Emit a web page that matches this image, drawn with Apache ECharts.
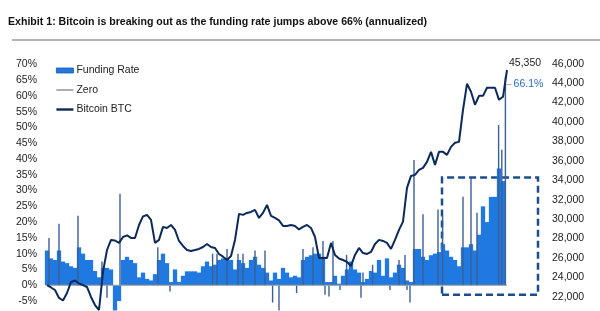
<!DOCTYPE html>
<html>
<head>
<meta charset="utf-8">
<script src="https://cdn.jsdelivr.net/npm/echarts@6/dist/echarts.min.js"></script>
<style>html,body{margin:0;padding:0;background:#fff}#c{width:600px;height:311px}</style>
</head>
<body>
<div id="c"></div>
<script>
// Funding rate (annualized %, main body of bars), one value per observation
const fundingRate = [11, 8.5, 8, 11, 7.5, 7, 6, 5.5, 12, 10,
  8, 8, 4.5, 2.5, 5.5, 5.5, 5, -8, -5, 8,
  9, 8, 7, 2.5, 4, 2, 1.5, 3.5, 8, 10,
  7, 1, 5, 1, 3, 4.4, 4.4, 4.4, 4, 6,
  7.5, 6, 6.5, 8, 8.5, 8.5, 8, 5, 8, 7,
  5.5, 8, 9, 6.5, 5.5, 4, 1.5, 4, 2, 5.5,
  4, 2.5, 3, 2.5, 8, 9, 9.5, 10, 10, 9,
  1, 1, 3, 0.5, 3, 5, 7.5, 5, 4, 1,
  2, 4.5, 4, 8, 3, 8.5, 2.5, 4, 6.5, 5.5,
  1.5, 1, 11.5, 11.5, 9, 8, 9.5, 10, 10.5, 13,
  11, 9, 8, 6, 12, 12, 13, 11, 16, 25,
  20, 28, 28, 37, 33, null];
// Bitcoin BTC price, same observations
const bitcoin = [23200, 22950, 22690, 21870, 21610, 22380, 23520, 23670, 23360, 23200,
  23000, 21970, 21140, 20630, 24550, 26810, 27850, 27790, 27540, 28150,
  28310, 28050, 28050, 29390, 30270, 30420, 29910, 27540, 27850, 29190,
  29080, 29390, 28880, 27740, 27230, 26810, 26710, 26810, 26920, 27120,
  27430, 27120, 27020, 26400, 26120, 25780, 26200, 27850, 30530, 30430,
  30630, 30730, 30940, 30110, 30630, 31450, 30320, 30110, 29860, 29290,
  29290, 29390, 29290, 28930, 29190, 29390, 29080, 28150, 25990, 25990,
  25990, 27540, 26300, 25940, 25780, 25580, 25170, 26300, 27020, 26500,
  26400, 26610, 27430, 27850, 27740, 27540, 26920, 27850, 28880, 29730,
  33210, 34440, 34550, 35060, 35270, 35890, 36920, 35580, 36920, 36920,
  36610, 37430, 37850, 37950, 41250, 43930, 43110, 41770, 42690, 42690,
  43520, 43520, 43520, 42280, 42590, 45350];
// Short-lived funding-rate spikes: observation position and value (%)
const spikeAt = [0.5, 3, 7.75, 13.75, 15, 18.25, 27.7, 30.75, 41.4, 42.5,
  45, 47.75, 49, 52, 54.5, 56.4, 58, 62.4, 64, 66.5,
  69, 69.5, 70.5, 71.5, 73.25, 74.9, 78.5, 79, 81.4, 85.75,
  88, 89.5, 90, 90.75, 91.75, 94, 97.75, 98.9, 104, 106,
  107.5, 112.9, 113.7, 114.6];
const spikeRate = [15, 19.5, 22, 7.5, -4, 29, 12, -2, 10, 10,
  11.5, 10, 10, 11, 11, -5.5, -8, -2.5, 11.5, 12,
  14, -3, -3.6, 14, -1.5, 9.6, -4, 4, 6.5, -1.5,
  8, 9.6, -1.5, -5.5, 39.7, 22.5, 24, 22, 28, 34,
  23, 50.8, 42.9, 66.1];
const zeroLevel = 0;
const leftTicks = {min: -5, max: 70, step: 5};
const rightTicks = {min: 22000, max: 46000, step: 2000};
// highlighted recent window (observation range and rate range)
const boxObs = [98.75, 122.75];
const boxRate = [34.1, -3];

const obs = fundingRate.map((_, i) => i);
const barData = obs.map(i => [i, fundingRate[i]]);
const btcData = obs.map(i => [i, bitcoin[i]]);
const lastSpike = spikeAt.length - 1;
const FONT = 'Liberation Sans, Arial, sans-serif';
const spikeData = spikeAt.map((x, k) => {
  if (k === lastSpike) {
    return {value: [x, spikeRate[k]], label: {show: true, position: [1, 8], verticalAlign: 'middle', align: 'left',
      formatter: '{d|–}{v|' + spikeRate[k].toFixed(1) + '%}',
      rich: {d: {color: '#999', fontSize: 10.5, fontFamily: FONT}, v: {color: '#2a6cc0', fontSize: 10.5, fontFamily: FONT, padding: [0,0,0,2]}}}};
  }
  return [x, spikeRate[k]];
});

const chart = echarts.init(document.getElementById('c'), null, {renderer: 'canvas'});
const xBase = {type: 'value', min: -1, max: 124.5, show: false};
chart.setOption({
  animation: false,
  backgroundColor: '#fff',
  textStyle: {fontFamily: FONT},
  title: {
    text: 'Exhibit 1: Bitcoin is breaking out as the funding rate jumps above 66% (annualized)',
    left: 3, top: 12,
    textStyle: {fontSize: 10.6, fontWeight: 'bold', color: '#111', fontFamily: FONT}
  },
  graphic: [{type: 'line', shape: {x1: 12, y1: 40, x2: 600, y2: 40}, style: {stroke: '#9a9a9a', lineWidth: 1.5}}],
  legend: {
    orient: 'vertical', left: 56, top: 65, padding: 0, itemWidth: 17, itemHeight: 5, itemGap: 8.5,
    textStyle: {fontSize: 10.5, color: '#222', fontFamily: FONT, padding: [0,0,0,-2]},
    data: [
      {name: 'Funding Rate', icon: 'rect', itemStyle: {color: '#2079e0', borderColor: '#1a55a8', borderWidth: 0.8}},
      {name: 'Zero', icon: 'path://M0,0L17,0L17,1.6L0,1.6Z', itemStyle: {color: '#999', borderWidth: 0}},
      {name: 'Bitcoin BTC', icon: 'path://M0,0L17,0L17,2.4L0,2.4Z', itemStyle: {color: '#0b2a5a', borderWidth: 0}}
    ]
  },
  grid: [
    {left: 43, right: 55, top: 64.3, bottom: 10},
    {left: 43, right: 55, top: 63.7, bottom: 14.3}
  ],
  xAxis: [
    Object.assign({gridIndex: 0}, xBase),
    Object.assign({gridIndex: 0}, xBase),
    Object.assign({gridIndex: 1}, xBase)
  ],
  yAxis: [
    {gridIndex: 0, type: 'value', position: 'left', min: leftTicks.min, max: leftTicks.max, interval: leftTicks.step,
      axisLine: {show: false}, axisTick: {show: false}, splitLine: {show: false},
      axisLabel: {formatter: '{value}%', margin: 6, fontSize: 10.5, color: '#222', fontFamily: FONT}},
    {gridIndex: 1, type: 'value', position: 'right', min: rightTicks.min, max: rightTicks.max, interval: rightTicks.step,
      axisLine: {show: false}, axisTick: {show: false}, splitLine: {show: false},
      axisLabel: {formatter: v => v.toLocaleString('en-US'), margin: 7, fontSize: 10.5, color: '#222', fontFamily: FONT}}
  ],
  series: [
    {
      name: 'Funding Rate', type: 'bar', xAxisIndex: 0, yAxisIndex: 0, data: barData,
      barWidth: 4.3, clip: false, itemStyle: {color: '#2079e0'},
      markArea: {
        silent: true,
        itemStyle: {color: 'rgba(0,0,0,0)', borderColor: '#1e4d8c', borderWidth: 2.5, borderType: [7, 4]},
        data: [[{coord: [boxObs[0], boxRate[0]]}, {coord: [boxObs[1], boxRate[1]]}]]
      }
    },
    {
      name: 'Funding Rate', type: 'bar', xAxisIndex: 1, yAxisIndex: 0, data: spikeData,
      barWidth: 1.4, clip: false, itemStyle: {color: '#3a5f96'}
    },
    {
      name: 'Zero', type: 'line', xAxisIndex: 0, yAxisIndex: 0, symbol: 'none',
      data: [[obs[0], zeroLevel], [obs[obs.length - 1], zeroLevel]],
      lineStyle: {color: '#999', width: 1}, itemStyle: {color: '#999'}
    },
    {
      name: 'Bitcoin BTC', type: 'line', xAxisIndex: 2, yAxisIndex: 1, data: btcData,
      symbol: 'none', clip: false, z: 5,
      lineStyle: {color: '#0b2a5a', width: 2}, itemStyle: {color: '#0b2a5a'},
      endLabel: {show: true, formatter: p => p.value[1].toLocaleString('en-US'), color: '#222', fontSize: 10.5, fontFamily: FONT, offset: [-6, -7]}
    }
  ]
});
</script>
</body>
</html>
